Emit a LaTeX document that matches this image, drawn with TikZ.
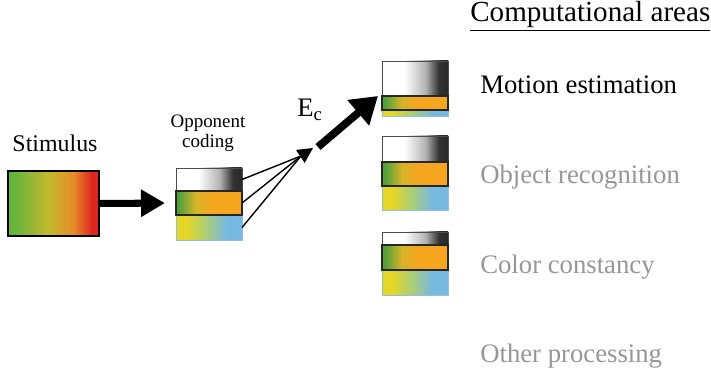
\documentclass[tikz,border=0pt]{standalone}
\usepackage{fontspec}
\setmainfont{Liberation Serif}
\usetikzlibrary{arrows.meta}

\definecolor{stgreen}{RGB}{100,180,60}
\definecolor{styellow}{RGB}{195,185,45}
\definecolor{storange}{RGB}{232,140,40}
\definecolor{stred}{RGB}{220,40,30}
\definecolor{opgreen}{RGB}{80,160,60}
\definecolor{opyellow}{RGB}{215,180,40}
\definecolor{oporange}{RGB}{245,165,30}
\definecolor{blyellow}{RGB}{228,215,40}
\definecolor{blmid}{RGB}{170,205,120}
\definecolor{blblue}{RGB}{120,185,225}
\definecolor{blborder}{RGB}{150,190,220}
\definecolor{areagray}{RGB}{150,150,150}

\pgfdeclarehorizontalshading{stimshade}{100bp}{color(0bp)=(stgreen); color(28bp)=(stgreen); color(47bp)=(styellow); color(61bp)=(storange); color(71bp)=(stred); color(100bp)=(stred)}
\pgfdeclarehorizontalshading{whiteshade}{100bp}{color(0bp)=(white); color(42bp)=(white); color(58bp)=(black!30); color(68bp)=(black!80); color(100bp)=(black)}
\pgfdeclarehorizontalshading{greenshade}{100bp}{color(0bp)=(opgreen); color(27bp)=(opgreen); color(40bp)=(opyellow); color(52bp)=(oporange); color(100bp)=(oporange)}
\pgfdeclarehorizontalshading{blueshade}{100bp}{color(0bp)=(blyellow); color(33bp)=(blyellow); color(48bp)=(blmid); color(63bp)=(blblue); color(100bp)=(blblue)}

\tikzset{
  stimbox/.style={shade, shading=stimshade, draw=black, line width=1.5pt,
    minimum width=2.275cm, minimum height=1.625cm, inner sep=0, outer sep=0},
  whiteband/.style={shade, shading=whiteshade, draw=black!70, line width=0.6pt,
    minimum width=1.65cm, inner sep=0, outer sep=0},
  greenband/.style={shade, shading=greenshade, draw=black!85, line width=0.9pt,
    minimum width=1.65cm, inner sep=0, outer sep=0},
  blueband/.style={shade, shading=blueshade, draw=blborder, line width=0.6pt,
    minimum width=1.65cm, inner sep=0, outer sep=0},
  areatxt/.style={anchor=base west, inner sep=0, font=\fontsize{19}{22}\selectfont},
  opptxt/.style={anchor=base, inner sep=0, font=\fontsize{13.5}{16}\selectfont}
}

\begin{document}
\begin{tikzpicture}[x=0.025cm,y=-0.025cm]
\useasboundingbox (0,0) rectangle (711,379);

% stimulus
\node[anchor=base, inner sep=0, font=\fontsize{17}{20}\selectfont] (stimlbl) at (55,152) {Stimulus};
\node[stimbox] (stim) at (53.5,203.5) {};

% opponent coding
\node[opptxt] (opplbl) at (208,128) {Opponent};
\node[opptxt] (codlbl) at (208,148) {coding};
\node[whiteband, minimum height=0.575cm] (w0) at (209,179.5) {};
\node[blueband, minimum height=0.625cm] (b0) at (209,227.5) {};
\node[greenband, minimum height=0.6cm] (g0) at (209,203) {};

\draw[line width=5pt, -{Triangle[length=0.6cm,width=0.65cm]}, shorten >=0.275cm] (stim.east) -- (g0.west);

% fan into one channel
\coordinate (fanmeet) at (301,156);
\coordinate (fantip) at (313,148);
\draw[line width=1pt] (w0.east) -- (fanmeet);
\draw[line width=1pt] (g0.east) -- (fanmeet);
\draw[line width=1pt] (b0.east) -- (fanmeet);
\draw[line width=1pt, -{Triangle[length=0.38cm,width=0.38cm]}] (fanmeet) -- (fantip);

% areas boxes
\node[whiteband, minimum height=0.875cm] (w1) at (415,78.5) {};
\node[blueband, minimum height=0.15cm] (b1) at (415,113) {};
\node[greenband, minimum height=0.35cm] (g1) at (415,103) {};

\node[whiteband, minimum height=0.65cm] (w2) at (415,149) {};
\node[blueband, minimum height=0.6cm] (b2) at (415,198) {};
\node[greenband, minimum height=0.6cm] (g2) at (415,174) {};

\node[whiteband, minimum height=0.325cm] (w3) at (415,238.5) {};
\node[blueband, minimum height=0.625cm] (b3) at (415,282.5) {};
\node[greenband, minimum height=0.625cm] (g3) at (415,257.5) {};

\coordinate (ecstart) at (318,147);
\draw[line width=5.5pt, -{Triangle[length=0.65cm,width=0.8cm]}] (ecstart) -- ([xshift=-0.1cm]w1.south west);
\node[anchor=base west, inner sep=0, font=\fontsize{19}{22}\selectfont] (eclbl) at (297,117) {E\textsubscript{c}};

% computational areas
\node[anchor=base west, inner sep=0, font=\fontsize{20.7}{24}\selectfont] (arealbl) at (470,22) {\underline{Computational areas}};
\node[areatxt] (motion) at (480,94) {Motion estimation};
\node[areatxt, text=areagray] (object) at (480,184) {Object recognition};
\node[areatxt, text=areagray] (color) at (480,274) {Color constancy};
\node[areatxt, text=areagray] (other) at (480,363) {Other processing};

\end{tikzpicture}
\end{document}
